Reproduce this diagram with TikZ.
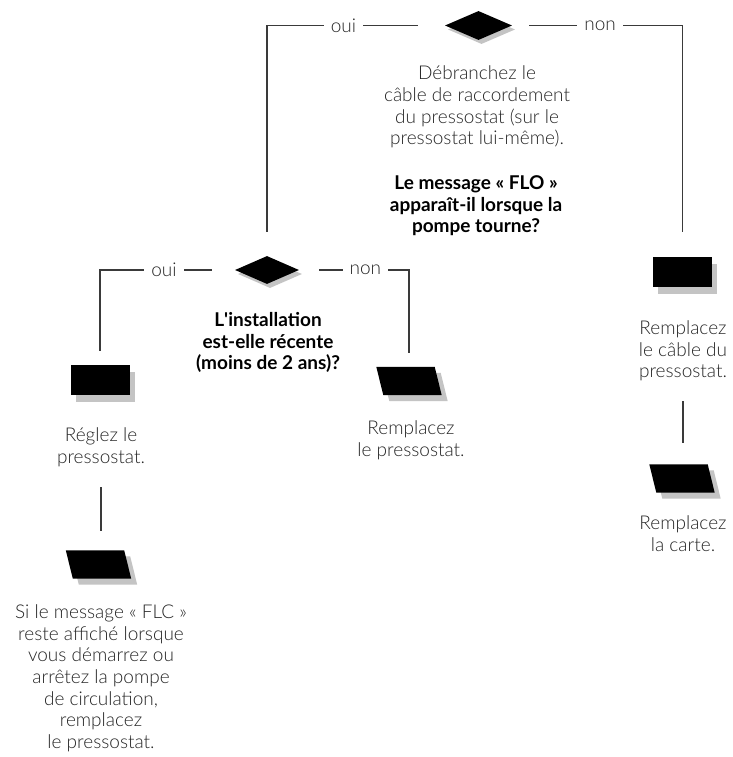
\documentclass[tikz,border=0pt]{standalone}
\usepackage{fontspec}
\setmainfont{Lato Light}[BoldFont={Lato Bold}]
\usetikzlibrary{shapes.geometric,shadows}
\definecolor{linegray}{HTML}{3A3A3A}
\definecolor{shadowgray}{HTML}{C4C4C4}
\definecolor{inkgray}{HTML}{262626}

% slanted end-step box, drawn over the frame of a named node
\newcommand\slantbox[1]{%
  \fill[shadowgray] ([shift={(6,6)}]#1.north west) -- ([shift={(-1,6)}]#1.north east)
    -- ([shift={(6,6)}]#1.south east) -- ([shift={(13,6)}]#1.south west) -- cycle;
  \fill[black] (#1.north west) -- ([xshift=-7pt]#1.north east)
    -- (#1.south east) -- ([xshift=7pt]#1.south west) -- cycle;}

\begin{document}
\begin{tikzpicture}[x=1pt,y=-1pt,
  conn/.style={draw=linegray,line width=1.5pt},
  lbl/.style={fill=white,inner xsep=7pt,inner ysep=1pt,text=inkgray,
    font=\fontsize{19}{21}\selectfont},
  decision/.style={diamond,fill=black,inner sep=0pt,
    minimum width=67pt,minimum height=29pt,
    drop shadow={shadow xshift=3pt,shadow yshift=-4pt,fill=shadowgray,opacity=1}},
  actionbox/.style={rectangle,fill=black,inner sep=0pt,
    minimum width=59pt,minimum height=30pt,
    drop shadow={shadow xshift=5pt,shadow yshift=-7pt,fill=shadowgray,opacity=1}},
  finalslot/.style={rectangle,inner sep=0pt,minimum width=65pt,minimum height=28pt},
  note/.style={align=center,inner sep=0pt,anchor=base,text=inkgray,
    font=\fontsize{19}{21.7}\selectfont},
  ask/.style={note,text=black,font=\bfseries\fontsize{19}{21.5}\selectfont}]

\fill[white] (0,0) rectangle (732,757);
\useasboundingbox (0,0) rectangle (732,757);

% decisions
\node[decision] (d1) at (478.5,25.5) {};
\node[decision,minimum width=64pt,minimum height=28pt] (d2) at (267,270) {};

% actions
\node[actionbox] (l1) at (100,379.5) {};
\node[actionbox] (r1) at (682.5,272) {};

% final steps
\node[finalslot] (l2) at (98.5,564.5) {};
\node[finalslot] (m) at (409,381) {};
\node[finalslot] (r2) at (682,478.5) {};
\slantbox{l2}
\slantbox{m}
\slantbox{r2}

% texts (anchored on the baseline of their last line)
\node[note] (t1) at (477,144.9) {Débranchez le\\câble de raccordement\\du pressostat (sur le\\pressostat lui-même).};
\node[ask] (q1) at (476,232.8) {Le message « FLO »\\apparaît-il lorsque la\\pompe tourne?};
\node[ask] (q2) at (268,369.8) {L\textquotesingle installation\\est-elle récente\\(moins de 2 ans)?};
\node[note] (tl1) at (101,463.5) {Réglez le\\pressostat.};
\node[note] (tl2) at (101,748.5) {Si le message « FLC »\\reste affiché lorsque\\vous démarrez ou\\arrêtez la pompe\\de circulation,\\remplacez\\le pressostat.};
\node[note] (tm) at (411,456.5) {Remplacez\\le pressostat.};
\node[note] (tr1) at (683,377.7) {Remplacez\\le câble du\\pressostat.};
\node[note] (tr2) at (683,551.5) {Remplacez\\la carte.};

% branches
\draw[conn,shorten <=27pt,shorten >=24pt] (d1.west) -| (d2.north)
  node[lbl,pos=0.285] {oui};
\draw[conn,shorten <=17pt,shorten >=25pt] (d1.east) -| (r1.north)
  node[lbl,pos=0.258] {non};
\draw[conn,shorten <=23pt,shorten >=13pt] (d2.west) -| (l1.north)
  node[lbl,pos=0.263] {oui};
\draw[conn,shorten <=20pt,shorten >=14pt] (d2.east) -| (m.north)
  node[lbl,pos=0.301] {non};
\draw[conn,shorten <=20pt,shorten >=19pt] (tl1.south) -- (tl1.south |- l2.north);
\draw[conn,shorten <=20pt,shorten >=21pt] (tr1.south) -- (tr1.south |- r2.north);
\end{tikzpicture}
\end{document}
